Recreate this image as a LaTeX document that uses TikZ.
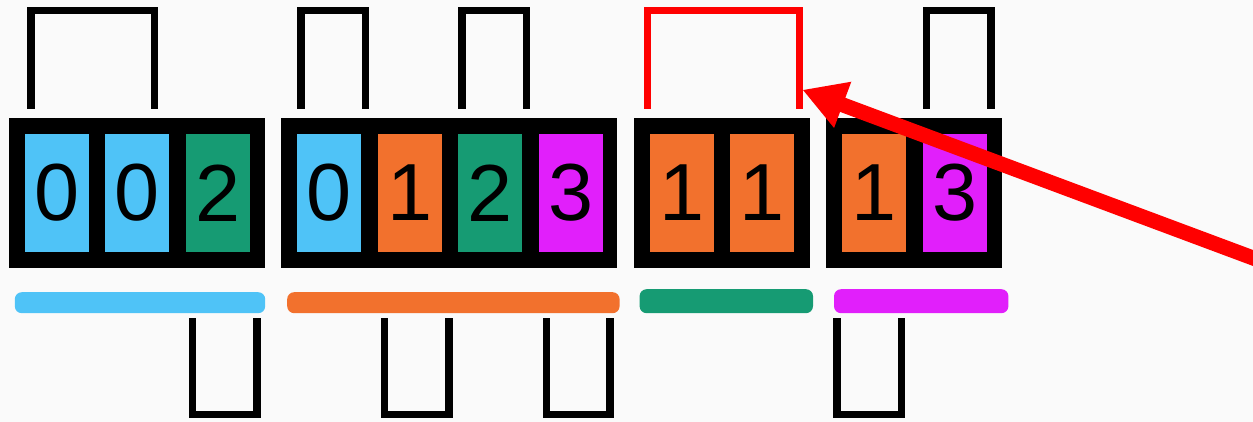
\documentclass[tikz,border=0pt]{standalone}
\usepackage{fontspec}
\setmainfont{Liberation Sans}
\usepackage{xcolor}
\usetikzlibrary{positioning,arrows.meta}

\definecolor{cellblue}{HTML}{4FC3F7}
\definecolor{cellorange}{HTML}{F2712D}
\definecolor{cellgreen}{HTML}{169B73}
\definecolor{cellpink}{HTML}{E11FFB}
\definecolor{paper}{HTML}{FAFAFA}

\begin{document}
\begin{tikzpicture}[x=1pt, y=-1pt,
		frame/.style={fill=black, minimum height=150pt, inner sep=0pt},
		cell/.style={minimum width=64pt, minimum height=118pt, inner sep=0pt, font=\fontsize{81pt}{81pt}\selectfont},
		link/.style={line width=7.5pt},
		over/.style={to path={-- ++(0,-98.5) -| (\tikztotarget)}},
		under/.style={to path={-- ++(0,96.5) -| (\tikztotarget)}},
		bar/.style={rounded corners=7pt},
		pointer/.style={red, line width=15pt, -{Triangle[length=43pt,width=46pt]}}]
	\useasboundingbox (0,0) rectangle (1253,422);
	\fill[paper] (0,0) rectangle (1253,422);
	
	% Group 1
	\node[frame, minimum width=256pt] (g1) at (137,193) {};
	\node[cell, fill=cellblue, right=16pt of g1.west] (g1a) {0};
	\node[cell, fill=cellblue, right=16pt of g1a] (g1b) {0};
	\node[cell, fill=cellgreen, right=16pt of g1b] (g1c) {2};
	\fill[cellblue, bar] ([xshift=6pt,yshift=-24pt]g1.south west) rectangle ([yshift=-45pt]g1.south east);
	
	% Group 2
	\node[frame, minimum width=336pt, right=16pt of g1] (g2) {};
	\node[cell, fill=cellblue, right=16pt of g2.west] (g2a) {0};
	\node[cell, fill=cellorange, right=16pt of g2a] (g2b) {1};
	\node[cell, fill=cellgreen, right=16pt of g2b] (g2c) {2};
	\node[cell, fill=cellpink, right=16pt of g2c] (g2d) {3};
	\fill[cellorange, bar] ([xshift=6pt,yshift=-24pt]g2.south west) rectangle ([xshift=2pt,yshift=-45pt]g2.south east);
	
	% Group 3
	\node[frame, minimum width=176pt, right=16pt of g2] (g3) {};
	\node[cell, fill=cellorange, right=16pt of g3.west] (g3a) {1};
	\node[cell, fill=cellorange, right=16pt of g3a] (g3b) {1};
	\fill[cellgreen, bar] ([xshift=6pt,yshift=-21pt]g3.south west) rectangle ([xshift=3pt,yshift=-45pt]g3.south east);
	
	% Group 4
	\node[frame, minimum width=176pt, right=16pt of g3] (g4) {};
	\node[cell, fill=cellorange, right=16pt of g4.west] (g4a) {1};
	\node[cell, fill=cellpink, right=16pt of g4a] (g4b) {3};
	\fill[cellpink, bar] ([xshift=8pt,yshift=-21pt]g4.south west) rectangle ([xshift=6pt,yshift=-45pt]g4.south east);
	
	% Brackets above
	\draw[link] ([xshift=6pt,yshift=25pt]g1a.north west) to[over] ([xshift=-15pt,yshift=25pt]g1b.north east);
	\draw[link] ([xshift=4pt,yshift=25pt]g2a.north west) to[over] ([xshift=4pt,yshift=25pt]g2a.north east);
	\draw[link] ([xshift=4pt,yshift=25pt]g2c.north west) to[over] ([xshift=4pt,yshift=25pt]g2c.north east);
	\draw[link, red] ([xshift=-2pt,yshift=25pt]g3a.north west) to[over] ([xshift=5pt,yshift=25pt]g3b.north east);
	\draw[link] ([xshift=4pt,yshift=25pt]g4b.north west) to[over] ([xshift=4pt,yshift=25pt]g4b.north east);
	
	% Brackets below
	\draw[link] ([xshift=7pt,yshift=-66pt]g1c.south west) to[under] ([xshift=7pt,yshift=-66pt]g1c.south east);
	\draw[link] ([xshift=7pt,yshift=-66pt]g2b.south west) to[under] ([xshift=7pt,yshift=-66pt]g2b.south east);
	\draw[link] ([xshift=8pt,yshift=-66pt]g2d.south west) to[under] ([xshift=7pt,yshift=-66pt]g2d.south east);
	\draw[link] ([xshift=-5pt,yshift=-66pt]g4a.south west) to[under] ([xshift=-5pt,yshift=-66pt]g4a.south east);
	
	% Pointer
	\coordinate (src) at (1290,271.8);
	\draw[pointer] (src) -- ([xshift=8pt,yshift=44pt]g3b.north east);
\end{tikzpicture}
\end{document}
